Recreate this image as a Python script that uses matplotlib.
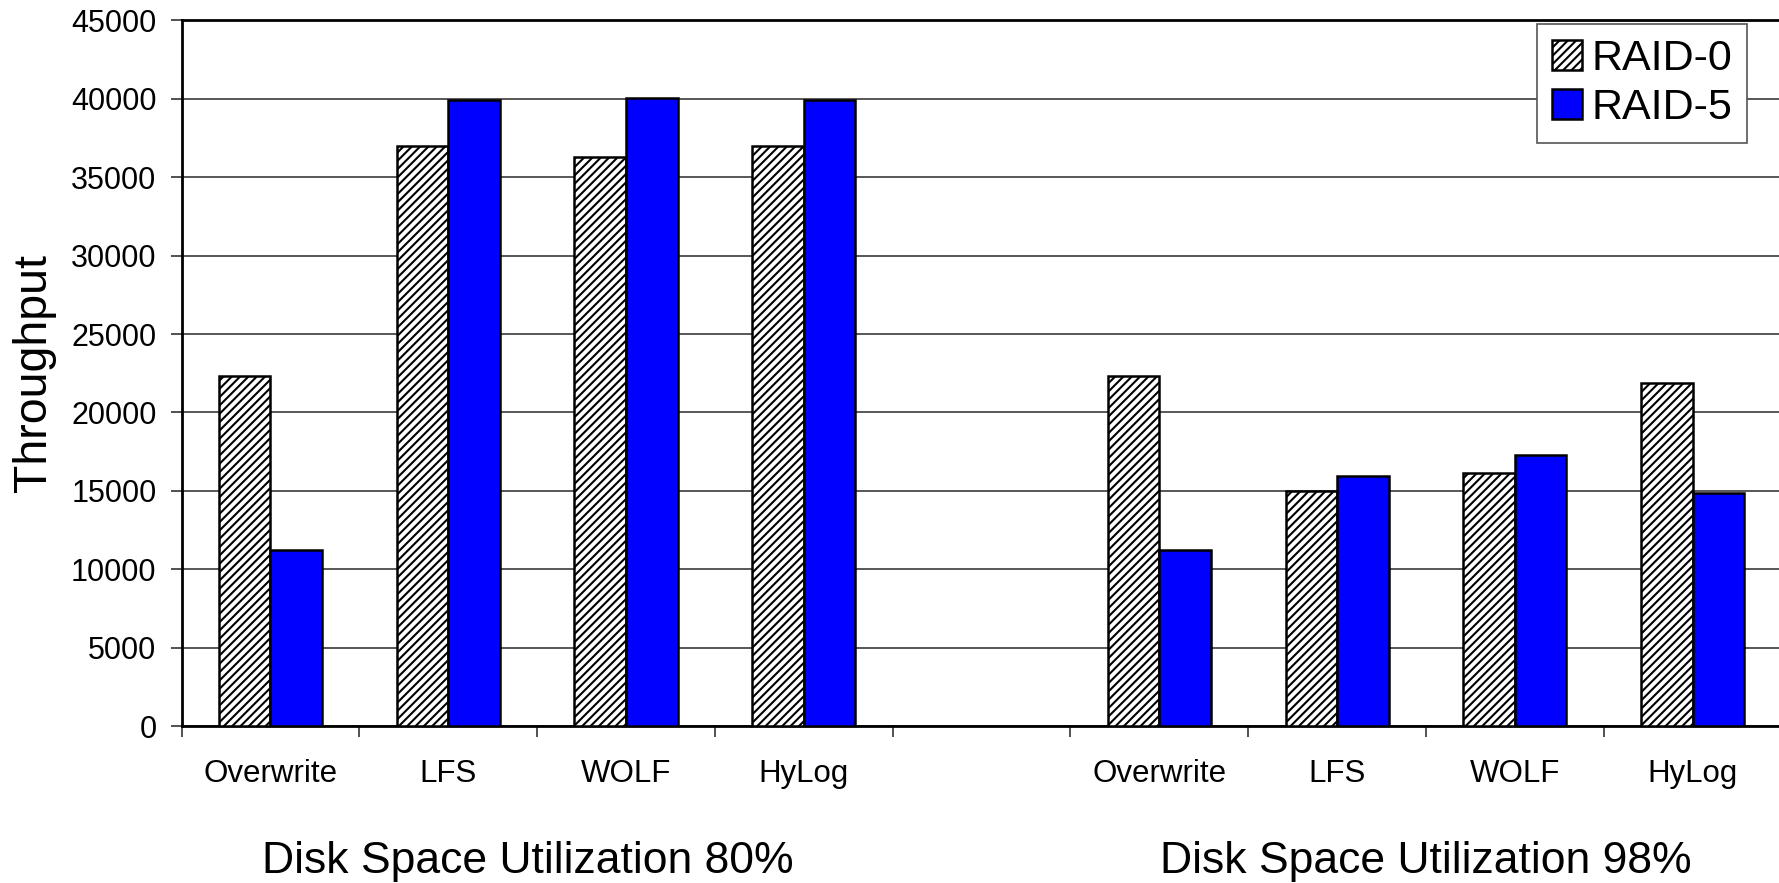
import matplotlib
matplotlib.use("Agg")
import matplotlib.pyplot as plt
import numpy as np

plt.rcParams['font.family'] = ['Liberation Sans', 'DejaVu Sans']
plt.rcParams['hatch.linewidth'] = 1.5

# ---- data ----
systems = ['Overwrite', 'LFS', 'WOLF', 'HyLog']
group_labels = ['Disk Space Utilization 80%', 'Disk Space Utilization 98%']
series_names = ['RAID-0', 'RAID-5']
raid0_80 = [22300, 37000, 36300, 37000]
raid5_80 = [11200, 39950, 40020, 39950]
raid0_98 = [22300, 15000, 16150, 21900]
raid5_98 = [11200, 15950, 17280, 14870]
yticks = [0, 5000, 10000, 15000, 20000, 25000, 30000, 35000, 40000, 45000]

# ---- layout ----
W, H = 1779, 883
fig = plt.figure(figsize=(W / 100, H / 100), dpi=100)
ax = fig.add_axes([181.5 / W, 1 - 726 / H, 1600 / W, (726 - 20.4) / H])

n = len(systems)
pos80 = np.arange(n)
pos98 = np.arange(n) + n + 1
positions = np.concatenate([pos80, pos98])
r0 = raid0_80 + raid0_98
r5 = raid5_80 + raid5_98
labels = systems + systems

bw = 0.29
ax.bar(positions - bw / 2, r0, width=bw, facecolor='white', edgecolor='black',
       hatch='////', linewidth=1.8, zorder=3, label=series_names[0])
ax.bar(positions + bw / 2, r5, width=bw, facecolor='#0000FF', edgecolor='black',
       linewidth=1.8, zorder=3, label=series_names[1])

ax.set_xlim(-0.5, 2 * n + 0.5)
ax.set_ylim(0, 45000)
ax.set_yticks(yticks)
ax.set_yticklabels([str(v) for v in yticks], fontsize=22)

# major x ticks at boundaries (no labels); minor ticks at centers with labels
ax.set_xticks(np.arange(-0.5, 2 * n + 0.6, 1))
ax.set_xticklabels([])
ax.set_xticks(positions, minor=True)
ax.set_xticklabels(labels, minor=True, fontsize=22.5)
ax.tick_params(axis='x', which='major', direction='out', length=8, width=1.2, color='#333333')
ax.tick_params(axis='x', which='minor', length=0, pad=24)
ax.tick_params(axis='y', direction='out', length=8, width=1.2, pad=10, color='#333333')

ax.yaxis.grid(True, color='#2a2a2a', linewidth=1.1, zorder=0)
ax.set_axisbelow(True)
for s in ['left', 'bottom', 'top']:
    ax.spines[s].set_linewidth(2.0)
    ax.spines[s].set_color('black')
ax.spines['right'].set_visible(False)

fig.text(34 / W, 1 - 373 / H, 'Throughput', rotation=90, fontsize=33.5,
         ha='center', va='center')

centers = [pos80.mean() - 0.05, pos98.mean()]
for c, t in zip(centers, group_labels):
    ax.text(c, -(873 - 726) / 705.6, t, transform=ax.get_xaxis_transform(),
            fontsize=32, ha='center', va='baseline')

leg = ax.legend(loc='upper right', bbox_to_anchor=(1747 / W, 1 - 24 / H),
                bbox_transform=fig.transFigure, borderaxespad=0, fontsize=31,
                handlelength=0.7, handleheight=0.7, handletextpad=0.2,
                labelspacing=0.2, borderpad=0.35, fancybox=False, framealpha=1)
leg.get_frame().set_edgecolor('#555555')
leg.get_frame().set_linewidth(1.2)

fig.savefig('out.png', dpi=100)
